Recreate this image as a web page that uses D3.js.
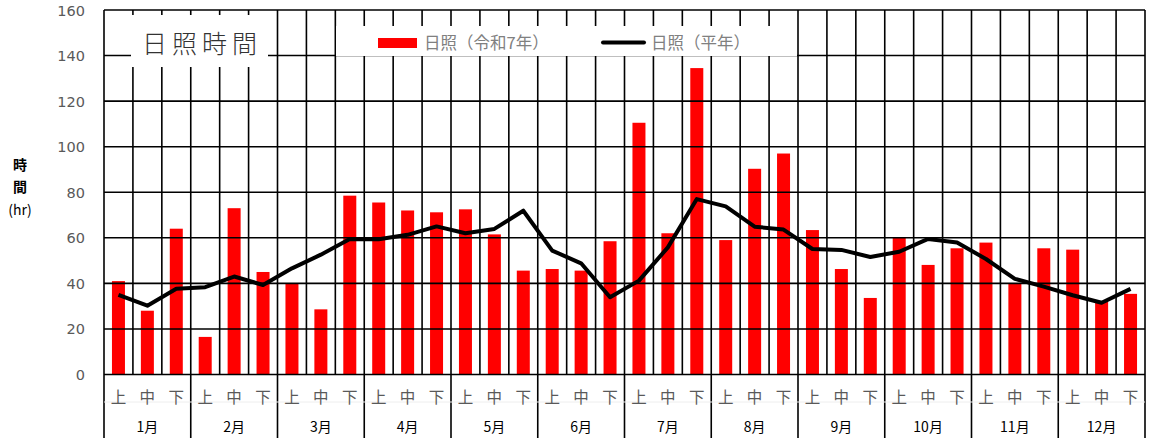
<!DOCTYPE html>
<html><head><meta charset="utf-8">
<script src="https://cdn.jsdelivr.net/npm/d3@7"></script>
<style>body{margin:0;background:#fff}svg{display:block}text{font-family:"Noto Sans CJK JP","Noto Sans",sans-serif}</style>
</head><body><svg id="c" width="1149" height="438"></svg>
<script>
const months = ["1月","2月","3月","4月","5月","6月","7月","8月","9月","10月","11月","12月"];
const dekads = ["上","中","下"];
const actual = [41,28,64, 16.5,73,45, 40,28.6,78.5, 75.5,72,71.2, 72.5,61.5,45.6, 46.3,45.6,58.5, 110.5,62,134.5, 59,90.3,97, 63.4,46.3,33.6, 60,48.1,55.4, 57.9,39.8,55.4, 54.8,32,35.4];
const normal = [35,30.2,37.6, 38.3,43,39.3, 46.6,52.6,59.5, 59.4,61.3,65, 62,63.9,71.9, 54.4,48.8,33.9, 41.2,55.8,77, 73.8,64.9,63.6, 55.1,54.7,51.6, 53.9,59.5,57.9, 50.7,42,38.6, 34.8,31.5,37.6];
const yTicks = [0,20,40,60,80,100,120,140,160];
const legendLabels = ["日照（令和7年）","日照（平年）"];
const titleText = "日照時間";

const svg = d3.select("#c");
const L=104, R=1145, T=10, B=374.5;
const keys = d3.range(actual.length);
const x = d3.scaleBand().domain(keys).range([L,R]);
const xm = d3.scaleBand().domain(months).range([L,R]);
const y = d3.scaleLinear().domain([0,160]).range([B,T]);

// bars
svg.append("g").selectAll("rect").data(actual).join("rect")
  .attr("x",(d,i)=>x(i)+x.bandwidth()/2-6.5).attr("width",13)
  .attr("y",d=>y(d)).attr("height",d=>B-y(d)).attr("fill","#ff0000");

// grid
const g = svg.append("g").attr("stroke","#000").attr("stroke-width",1.6);
g.selectAll(".h").data(yTicks).join("line").attr("x1",L).attr("x2",R)
  .attr("y1",d=>y(d)).attr("y2",d=>y(d));
g.selectAll(".v").data(d3.range(actual.length+1)).join("line")
  .attr("x1",i=>L+i*x.step()).attr("x2",i=>L+i*x.step())
  .attr("y1",T).attr("y2",i=>i%3===0?438:B);

// line
svg.append("path").datum(normal).attr("fill","none").attr("stroke","#000")
  .attr("stroke-width",4).attr("stroke-linejoin","round")
  .attr("d",d3.line().x((d,i)=>x(i)+x.bandwidth()/2).y(d=>y(d)));

// y axis labels
svg.append("g").selectAll("text").data(yTicks).join("text")
  .attr("x",85).attr("y",d=>y(d)+5.5).attr("text-anchor","end")
  .style("font-family","'DejaVu Sans',sans-serif")
  .attr("font-size",14.5).attr("fill","#595959").text(d=>d);
const yl = svg.append("g").attr("font-size",14).attr("fill","#000").attr("text-anchor","middle");
yl.append("text").attr("x",20).attr("y",170).attr("font-weight","bold").text("時");
yl.append("text").attr("x",20).attr("y",192).attr("font-weight","bold").text("間");
yl.append("text").attr("x",20).attr("y",215).text("(hr)");

// faint line in dekad row
svg.append("line").attr("x1",L).attr("x2",R).attr("y1",402).attr("y2",402).attr("stroke","#eee").attr("stroke-width",1);

// x labels
svg.append("g").selectAll("text").data(keys).join("text")
  .attr("x",i=>x(i)+x.bandwidth()/2).attr("y",403).attr("text-anchor","middle")
  .attr("font-size",15.5).attr("fill","#595959").text(i=>dekads[i%3]);
svg.append("g").selectAll("text").data(months).join("text")
  .attr("x",d=>xm(d)+xm.bandwidth()/2).attr("y",432).attr("text-anchor","middle")
  .attr("font-size",14).attr("fill","#000").text(d=>d);

// title box
svg.append("rect").attr("x",131).attr("y",15).attr("width",137).attr("height",52).attr("fill","#fff");
svg.append("text").attr("x",202).attr("y",53).attr("text-anchor","middle")
  .attr("font-size",25).attr("font-weight",300).attr("letter-spacing",5).attr("fill","#333").text(titleText);

// legend box
svg.append("rect").attr("x",336).attr("y",26).attr("width",461).attr("height",30).attr("fill","#fff");
svg.append("rect").attr("x",378).attr("y",38).attr("width",39).attr("height",10).attr("fill","#ff0000");
svg.append("text").attr("x",424).attr("y",49).attr("font-size",16.5).attr("fill","#808080").text(legendLabels[0]);
svg.append("line").attr("x1",603).attr("x2",644).attr("y1",42.5).attr("y2",42.5).attr("stroke","#000").attr("stroke-width",4).attr("stroke-linecap","round");
svg.append("text").attr("x",651).attr("y",49).attr("font-size",16.5).attr("fill","#808080").text(legendLabels[1]);
</script></body></html>
